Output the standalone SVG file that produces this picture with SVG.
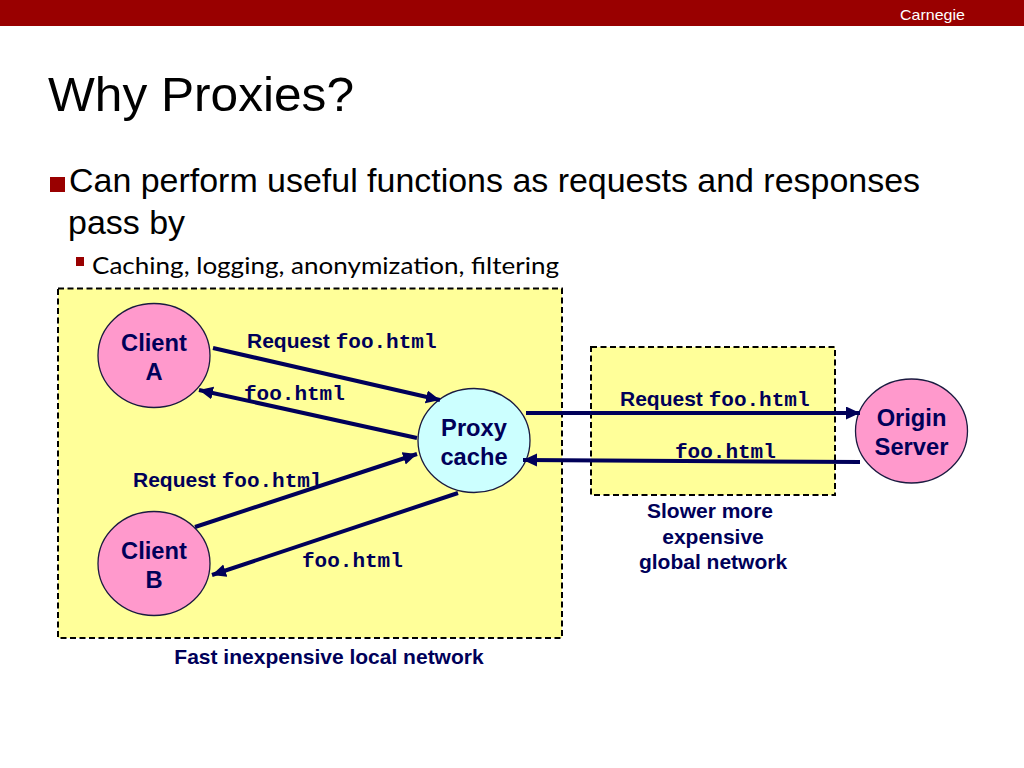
<svg xmlns="http://www.w3.org/2000/svg" width="1024" height="768" viewBox="0 0 1024 768">
<style>
.zone{fill:#ffff99;stroke:#000;stroke-width:2;stroke-dasharray:6 3.5}
.node{stroke:#1a1a40;stroke-width:1.3}
.pink{fill:#ff99cc}
.cyan{fill:#ccffff}
.lbl{font-family:"Liberation Sans",Arial,sans-serif;font-weight:700;fill:#000059}
.big{font-size:23.700px;text-anchor:middle}
.med{font-size:21px}
.mono{font-family:"Liberation Mono","Courier New",monospace;font-weight:700}
.head{font-family:"Liberation Sans",Arial,sans-serif;fill:#000}
.edge{stroke:#000059;stroke-width:4;fill:none;marker-end:url(#ah)}
</style>
<defs>
<marker id="ah" markerUnits="userSpaceOnUse" markerWidth="16" markerHeight="14" refX="14" refY="6.500" orient="auto">
<path d="M0,0 L14,6.500 L0,13 Z" fill="#000059"/>
</marker>
</defs>
<rect width="1024" height="768" fill="#fff"/>
<rect id="top-bar" width="1024" height="26" fill="#990000"/>
<text x="900" y="20" class="head" font-size="15" style="fill:#fff" textLength="65" lengthAdjust="spacingAndGlyphs">Carnegie</text>
<text x="48" y="111" class="head" font-size="49" textLength="306" lengthAdjust="spacingAndGlyphs">Why Proxies?</text>
<rect x="50" y="177" width="15" height="15" fill="#990000"/>
<text x="69" y="192" class="head" font-size="32.500" textLength="851" lengthAdjust="spacingAndGlyphs">Can perform useful functions as requests and responses</text>
<text x="68" y="234" class="head" font-size="32.500" textLength="117" lengthAdjust="spacingAndGlyphs">pass by</text>
<rect x="76" y="257" width="8" height="9" fill="#990000"/>
<text x="92" y="274" font-family="Lato,'Open Sans',sans-serif" font-size="24" fill="#000" textLength="467" lengthAdjust="spacingAndGlyphs">Caching, logging, anonymization, filtering</text>

<g id="zone-local"><rect class="zone" x="58" y="288.500" width="504" height="349.500"/></g>
<g id="zone-global"><rect class="zone" x="591" y="347" width="244" height="148"/></g>

<g id="client-a"><ellipse class="node pink" cx="154" cy="355.500" rx="56" ry="52"/>
<text class="lbl big" x="154" y="351">Client</text><text class="lbl big" x="154" y="380">A</text></g>
<g id="client-b"><ellipse class="node pink" cx="154" cy="563.500" rx="56" ry="52"/>
<text class="lbl big" x="154" y="559">Client</text><text class="lbl big" x="154" y="588">B</text></g>
<g id="proxy-cache"><ellipse class="node cyan" cx="474" cy="440.500" rx="56" ry="52"/>
<text class="lbl big" x="474" y="436">Proxy</text><text class="lbl big" x="474" y="465">cache</text></g>
<g id="origin-server"><ellipse class="node pink" cx="911.500" cy="431" rx="56" ry="52"/>
<text class="lbl big" x="911.500" y="426">Origin</text><text class="lbl big" x="911.500" y="455">Server</text></g>

<g id="connectors">
<line class="edge" x1="213" y1="348" x2="440" y2="400"/>
<line class="edge" x1="417" y1="438" x2="199" y2="390"/>
<line class="edge" x1="195" y1="527" x2="417" y2="454"/>
<line class="edge" x1="458" y1="493" x2="212" y2="575"/>
<line class="edge" x1="526" y1="413" x2="860" y2="413"/>
<line class="edge" x1="860" y1="462" x2="523" y2="460"/>
</g>

<g id="labels">
<text class="lbl med" x="247" y="348">Request <tspan class="mono">foo.html</tspan></text>
<text class="lbl med mono" x="244" y="400">foo.html</text>
<text class="lbl med" x="133" y="487">Request <tspan class="mono">foo.html</tspan></text>
<text class="lbl med mono" x="302" y="567">foo.html</text>
<text class="lbl med" x="620" y="406">Request <tspan class="mono">foo.html</tspan></text>
<text class="lbl med mono" x="675" y="458">foo.html</text>
<text class="lbl med" x="710" y="518" text-anchor="middle">Slower more</text>
<text class="lbl med" x="713" y="544" text-anchor="middle">expensive</text>
<text class="lbl med" x="713" y="569" text-anchor="middle">global network</text>
<text class="lbl med" x="329" y="664" text-anchor="middle">Fast inexpensive local network</text>
</g>
</svg>
